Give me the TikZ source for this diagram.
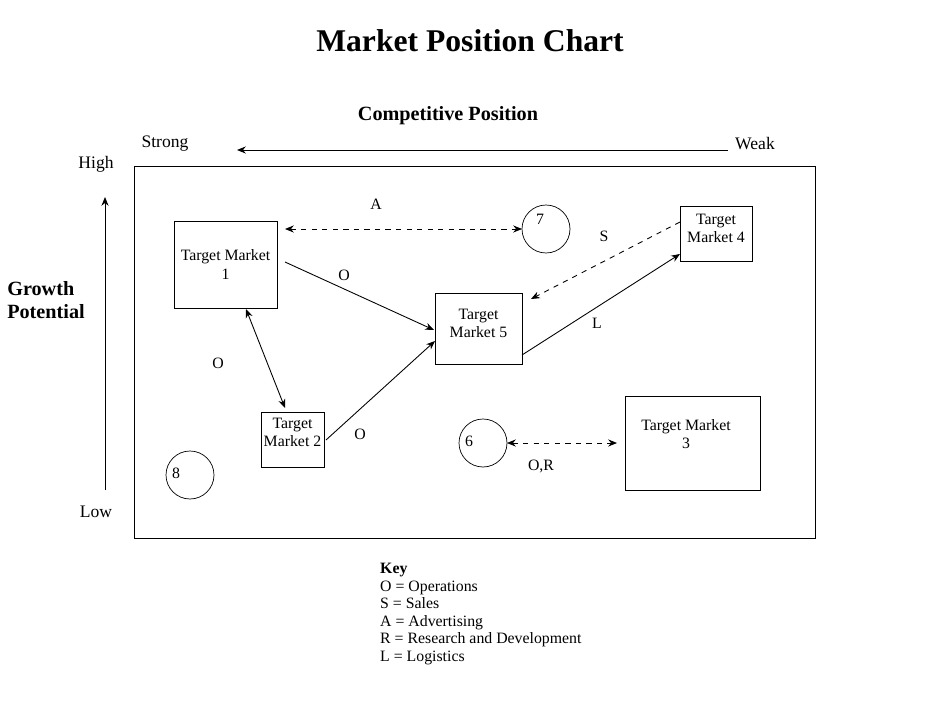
\documentclass[tikz,border=0pt]{standalone}
\usepackage{fontspec}
\setmainfont{Liberation Serif}
\usetikzlibrary{arrows.meta}
\begin{document}
\begin{tikzpicture}[x=0.02cm,y=-0.02cm,
            every node/.style={font=\fontsize{9}{10.5}\selectfont},
            market/.style={draw,align=center,inner sep=1pt},
            site/.style={draw,circle,minimum size=0.96cm},
            link/.style={-{Stealth[length=5pt,width=4pt]},line width=0.5pt},
            duo/.style={{Stealth[length=5pt,width=4pt]}-{Stealth[length=5pt,width=4pt]},line width=0.5pt}]
            \useasboundingbox (0,0) rectangle (950,713);
            \node(title) at (470,41) {\fontsize{18}{21}\selectfont\bfseries Market Position Chart};
            \node(comp) at (448,116) {\fontsize{11.5}{13}\selectfont\bfseries Competitive Position};
            \node(strong) at (165,144) {\fontsize{10}{12}\selectfont Strong};
            \node(weak) at (755,144) {\fontsize{10}{12}\selectfont Weak};
            \node(high) at (96,164) {\fontsize{10}{12}\selectfont High};
            \node(low) at (96,512) {\fontsize{10}{12}\selectfont Low};
            \node[align=left,font=\fontsize{11.5}{13.5}\selectfont\bfseries](growth) at (46,300) {Growth\\Potential};
            \coordinate(cw) at (728,150);
            \coordinate(cs) at (237,150);
            \coordinate(gl) at (105,490);
            \coordinate(gh) at (105,197);
            \draw[link](cw)--(cs);
            \draw[link](gl)--(gh);
            \draw[line width=0.5pt](134,166) rectangle (815,538);

            \node[market,minimum width=2.06cm,minimum height=1.74cm](m1) at (225.5,264.5) {Target Market\\1};
            \node[market,minimum width=1.26cm,minimum height=1.1cm,text depth=8pt](m2) at (292.5,439.5) {Target\\Market 2};
            \node[market,minimum width=1.74cm,minimum height=1.42cm,text depth=6pt](m5) at (478.5,328.5) {Target\\Market 5};
            \node[market,minimum width=1.44cm,minimum height=1.1cm,text depth=6pt](m4) at (716,233.5) {Target\\Market 4};
            \draw(625,396) rectangle (760,490);
            \node[align=center](m3) at (686,434) {Target Market\\3};

            \node[site](s7) at (546,229) {};
            \node(l7) at (540,219) {7};
            \node[site](s6) at (483,443) {};
            \node(l6) at (469,441) {6};
            \node[site](s8) at (190,475) {};
            \node(l8) at (176,473) {8};

            \coordinate(a1) at (285,229);
            \coordinate(a2) at (522,229);
            \coordinate(o1) at (285,262);
            \coordinate(o2) at (434,330);
            \coordinate(o3) at (246,309);
            \coordinate(o4) at (285,408);
            \coordinate(o5) at (326,440);
            \coordinate(o6) at (435,341);
            \coordinate(l1) at (522,355);
            \coordinate(l2) at (680,254);
            \coordinate(s1) at (680,222);
            \coordinate(s2) at (531,299);
            \coordinate(r1) at (507,443);
            \coordinate(r2) at (617,443);

            \draw[duo,dashed](a1)--(a2);
            \draw[link](o1)--(o2);
            \draw[duo](o3)--(o4);
            \draw[link](o5)--(o6);
            \draw[link](l1)--(l2);
            \draw[link,dashed](s1)--(s2);
            \draw[duo,dashed](r1)--(r2);

            \node(ta) at (376,204) {A};
            \node(to1) at (344,275) {O};
            \node(to2) at (218,363) {O};
            \node(to3) at (360,434) {O};
            \node(tl) at (597,323) {L};
            \node(ts) at (604,236) {S};
            \node(tr) at (541,466) {O,R};

            \node[anchor=north west,align=left,font=\fontsize{9}{10}\selectfont](key) at (374,557) {\textbf{Key}\\O = Operations\\S = Sales\\A = Advertising\\R = Research and Development\\L = Logistics};
        \end{tikzpicture}
\end{document}
